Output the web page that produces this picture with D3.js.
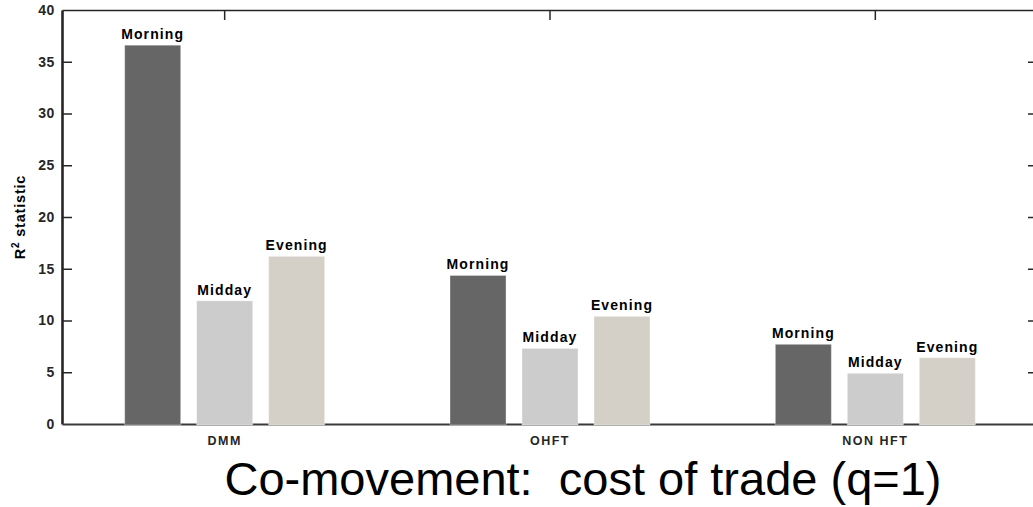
<!DOCTYPE html>
<html><head><meta charset="utf-8">
<script src="https://cdn.jsdelivr.net/npm/d3@7"></script>
<style>
html,body{margin:0;padding:0;background:#fff;}
svg{display:block;}
</style></head>
<body>
<svg id="chart" width="1033" height="507"></svg>
<script>
const categories = ["DMM", "OHFT", "NON HFT"];
const series = ["Morning", "Midday", "Evening"];
const morning = [36.6, 14.35, 7.7];
const midday = [11.9, 7.3, 4.9];
const evening = [16.2, 10.4, 6.4];
const yTicks = [0, 5, 10, 15, 20, 25, 30, 35, 40];
const colors = ["#666666", "#cccccc", "#d4d0c8"];
const titleText = "Co-movement:  cost of trade (q=1)";

const values = [morning, midday, evening];
const data = [];
categories.forEach((c, ci) => series.forEach((s, si) => data.push({cat: c, ser: s, v: values[si][ci], col: colors[si]})));

const svg = d3.select("#chart");
const L = 62, R = 1038, T = 10, B = 424;
const x0 = d3.scaleBand().domain(categories).range([L, R]).paddingInner(0).paddingOuter(0);
const x1 = d3.scaleBand().domain(series).range([-100, 100]).paddingInner(0.222).paddingOuter(0);
const y = d3.scaleLinear().domain([0, 40]).range([B, T]);
const font = "'Liberation Sans', Arial, Helvetica, sans-serif";

// frame axes
const gL = svg.append("g").attr("transform", `translate(${L},0)`)
  .call(d3.axisLeft(y).tickValues(yTicks).tickSize(-10).tickSizeOuter(0).tickPadding(7));
const gR = svg.append("g").attr("transform", `translate(${R},0)`)
  .call(d3.axisRight(y).tickValues(yTicks).tickSize(-10).tickSizeOuter(0).tickFormat(""));
const gT = svg.append("g").attr("transform", `translate(0,${T})`)
  .call(d3.axisTop(x0).tickSize(-10).tickSizeOuter(0).tickFormat(""));
const gB = svg.append("g").attr("transform", `translate(0,${B})`)
  .call(d3.axisBottom(x0).tickSize(-10).tickSizeOuter(0).tickPadding(12));

[gL, gR, gT, gB].forEach(g => {
  g.selectAll("path.domain").attr("stroke", "#262626").attr("stroke-width", 1.5);
  g.selectAll(".tick line").attr("stroke", "#262626").attr("stroke-width", 1.5);
});
gL.select("path.domain").attr("stroke-width", 2.6);
gB.select("path.domain").attr("stroke", "#3a3a3a").attr("stroke-width", 2);
gL.selectAll(".tick line").filter(d => d === 0 || d === 40).remove();
gR.selectAll(".tick line").filter(d => d === 0 || d === 40).remove();
gL.selectAll("text").attr("font-family", font).attr("font-weight", "bold").attr("font-size", 14)
  .attr("letter-spacing", 0.6).attr("fill", "#262626");
gB.selectAll("text").attr("font-family", font).attr("font-weight", "bold").attr("font-size", 12.5).attr("fill", "#262626")
  .attr("letter-spacing", 1.5);

// bars
const bars = svg.append("g");
bars.selectAll("rect").data(data).join("rect")
  .attr("x", d => x0(d.cat) + x0.bandwidth() / 2 + x1(d.ser))
  .attr("y", d => y(d.v))
  .attr("width", x1.bandwidth())
  .attr("height", d => y(0) - y(d.v) + 1)
  .attr("fill", d => d.col)
  .attr("stroke", "#ffffff").attr("stroke-opacity", 0.35).attr("stroke-width", 1);

// bar labels
svg.append("g").selectAll("text").data(data).join("text")
  .attr("x", d => x0(d.cat) + x0.bandwidth() / 2 + x1(d.ser) + x1.bandwidth() / 2)
  .attr("y", d => y(d.v) - 6)
  .attr("text-anchor", "middle")
  .attr("font-family", font).attr("font-weight", "bold").attr("font-size", 14)
  .attr("letter-spacing", 1.1)
  .attr("fill", "#000")
  .text(d => d.ser);

// y axis title
const yl = svg.append("text")
  .attr("transform", `translate(25,${(T + B) / 2}) rotate(-90)`)
  .attr("text-anchor", "middle")
  .attr("font-family", font).attr("font-weight", "bold").attr("font-size", 14.5)
  .attr("letter-spacing", 0.8)
  .attr("fill", "#000");
yl.append("tspan").text("R");
yl.append("tspan").attr("dy", -6).attr("font-size", 10).text("2");
yl.append("tspan").attr("dy", 6).text(" statistic");

// title
svg.append("text")
  .attr("x", 583).attr("y", 495)
  .attr("text-anchor", "middle")
  .attr("font-family", font).attr("font-size", 47)
  .attr("fill", "#000")
  .style("white-space", "pre")
  .text(titleText);
</script>
</body></html>
